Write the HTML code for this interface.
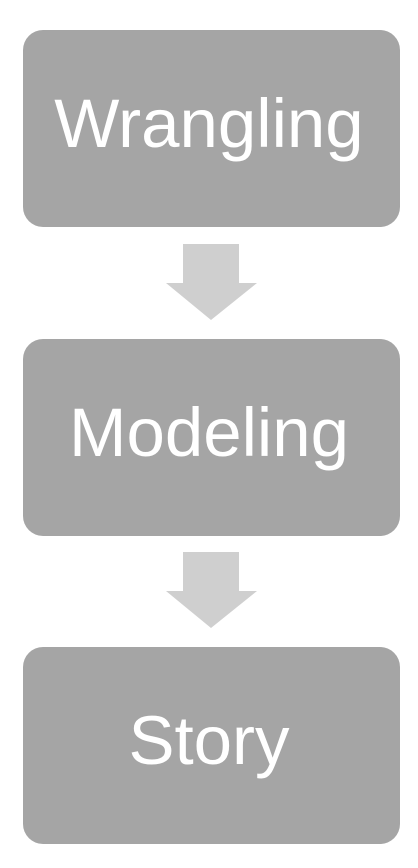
<!DOCTYPE html>
<html><head><style>
body{margin:0;width:418px;height:868px;background:#fff;position:relative;overflow:hidden;font-family:"Liberation Sans",sans-serif}
.b{position:absolute;left:23px;width:377px;height:197px;background:#a5a5a5;border-radius:20px}
.t{position:absolute;left:0;width:418px;text-align:center;color:#fff;font-size:69px;line-height:1}
</style></head><body>
<div class="b" style="top:30px"></div>
<div class="b" style="top:339px"></div>
<div class="b" style="top:647px"></div>
<svg width="418" height="868" style="position:absolute;left:0;top:0">
<polygon points="183,244 239,244 239,283 257,283 211,320 166,283 183,283" fill="#cfcfcf"/>
<polygon points="183,552 239,552 239,591 257,591 211,628 166,591 183,591" fill="#cfcfcf"/>
</svg>
<div class="t" style="top:89px">Wrangling</div>
<div class="t" style="top:398px">Modeling</div>
<div class="t" style="top:706px">Story</div>
</body></html>
